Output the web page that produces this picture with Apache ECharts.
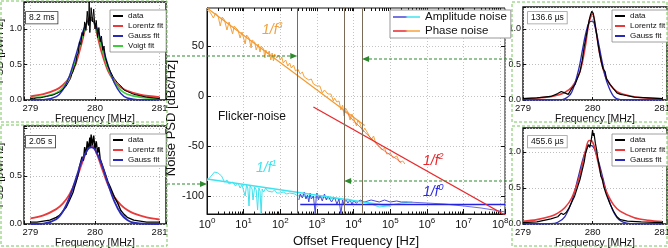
<!DOCTYPE html>
<html>
<head>
<meta charset="utf-8">
<script src="https://cdn.jsdelivr.net/npm/echarts@6/dist/echarts.min.js"></script>
<style>
  html, body { margin: 0; padding: 0; background: #fff; }
  #chart { width: 668px; height: 248px; }
</style>
</head>
<body>
<div id="chart"></div>
<script>
const FONT = "'Liberation Sans', Arial, sans-serif";
const INK = '#111';

// ---- side panels: line shapes, frequency in MHz, PSD in pW/Hz ----
const panelLabels = ['8.2 ms', '2.05 s', '136.6 µs', '455.6 µs'];

const fitFreqTL = [279.0, 279.2, 279.4, 279.5, 279.6, 279.7, 279.8, 279.85, 279.9, 279.95, 280.0, 280.05, 280.1, 280.2, 280.3, 280.4, 280.5, 280.7, 281.0];
const lorentzTL = [0.052, 0.082, 0.146, 0.208, 0.315, 0.504, 0.824, 1.009, 1.144, 1.158, 1.042, 0.86, 0.68, 0.415, 0.265, 0.179, 0.128, 0.074, 0.04];
const gaussTL = [0, 0.003, 0.046, 0.138, 0.328, 0.62, 0.934, 1.05, 1.12, 1.125, 1.069, 0.96, 0.814, 0.494, 0.24, 0.092, 0.028, 0.001, 0];
const voigtTL = [0.03, 0.05, 0.1, 0.17, 0.32, 0.56, 0.88, 1.03, 1.13, 1.14, 1.06, 0.91, 0.75, 0.45, 0.25, 0.14, 0.08, 0.04, 0.02];
const dataTL = [
  [279.0, 0.02], [279.05, 0.02], [279.1, 0.03], [279.15, 0.03], [279.2, 0.04], [279.25, 0.05], [279.3, 0.06],
  [279.35, 0.07], [279.4, 0.09], [279.45, 0.11], [279.5, 0.15], [279.55, 0.19], [279.6, 0.27], [279.62, 0.3],
  [279.64, 0.36], [279.66, 0.4], [279.68, 0.47], [279.7, 0.5], [279.72, 0.62], [279.74, 0.66], [279.76, 0.82],
  [279.78, 0.78], [279.8, 0.95], [279.82, 0.9], [279.84, 1.1], [279.86, 0.98], [279.88, 1.25], [279.9, 1.05],
  [279.91, 1.38], [279.92, 0.95], [279.94, 1.3], [279.96, 1.1], [279.98, 1.28], [280.0, 1.0], [280.02, 1.12],
  [280.04, 0.88], [280.06, 1.02], [280.08, 0.82], [280.1, 0.9], [280.12, 0.7], [280.14, 0.76], [280.16, 0.6],
  [280.18, 0.62], [280.2, 0.48], [280.22, 0.5], [280.24, 0.4], [280.26, 0.42], [280.28, 0.33], [280.3, 0.3],
  [280.35, 0.24], [280.4, 0.2], [280.45, 0.14], [280.5, 0.12], [280.6, 0.08], [280.7, 0.06], [280.8, 0.04],
  [280.9, 0.03], [281.0, 0.02],
];

const fitFreqBL = [279.0, 279.2, 279.4, 279.5, 279.6, 279.7, 279.8, 279.9, 279.95, 280.0, 280.1, 280.2, 280.3, 280.4, 280.5, 280.6, 280.8, 281.0];
const lorentzBL = [0.058, 0.09, 0.155, 0.212, 0.303, 0.443, 0.636, 0.801, 0.819, 0.779, 0.595, 0.41, 0.281, 0.199, 0.145, 0.11, 0.069, 0.047];
const gaussBL = [0, 0.004, 0.05, 0.128, 0.269, 0.464, 0.665, 0.788, 0.799, 0.774, 0.628, 0.422, 0.235, 0.108, 0.042, 0.013, 0.001, 0];
const dataBL = [
  [279.0, 0.02], [279.1, 0.02], [279.2, 0.03], [279.3, 0.04], [279.4, 0.07], [279.45, 0.09], [279.5, 0.13],
  [279.55, 0.17], [279.6, 0.24], [279.64, 0.3], [279.66, 0.33], [279.68, 0.38], [279.7, 0.42], [279.72, 0.47],
  [279.74, 0.52], [279.76, 0.6], [279.78, 0.58], [279.8, 0.7], [279.82, 0.66], [279.84, 0.8], [279.86, 0.72],
  [279.88, 0.86], [279.9, 0.78], [279.92, 0.9], [279.93, 0.8], [279.94, 0.93], [279.96, 0.82], [279.98, 0.92],
  [280.0, 0.78], [280.02, 0.86], [280.04, 0.74], [280.06, 0.8], [280.08, 0.68], [280.1, 0.7], [280.12, 0.6],
  [280.14, 0.62], [280.16, 0.52], [280.18, 0.54], [280.2, 0.44], [280.22, 0.46], [280.24, 0.38], [280.26, 0.36],
  [280.3, 0.28], [280.35, 0.22], [280.4, 0.14], [280.45, 0.1], [280.5, 0.07], [280.6, 0.04], [280.7, 0.03],
  [280.8, 0.02], [281.0, 0.02],
];

const fitFreqR = [279.0, 279.2, 279.4, 279.5, 279.6, 279.7, 279.8, 279.85, 279.9, 279.95, 280.0, 280.05, 280.1, 280.15, 280.2, 280.3, 280.4, 280.6, 280.8, 281.0];
const lorentzTR = [0.018, 0.028, 0.048, 0.069, 0.105, 0.178, 0.348, 0.517, 0.781, 1.098, 1.212, 0.976, 0.663, 0.439, 0.3, 0.159, 0.096, 0.046, 0.026, 0.017];
const gaussTR = [0, 0, 0, 0.001, 0.016, 0.11, 0.43, 0.68, 0.93, 1.09, 1.11, 0.97, 0.73, 0.48, 0.27, 0.054, 0.006, 0, 0, 0];
const dataTR = [
  [279.0, 0.02], [279.2, 0.03], [279.4, 0.05], [279.5, 0.09], [279.55, 0.12], [279.6, 0.1], [279.65, 0.08],
  [279.7, 0.16], [279.75, 0.22], [279.8, 0.35], [279.82, 0.4], [279.85, 0.55], [279.88, 0.75], [279.9, 0.85],
  [279.92, 0.96], [279.95, 1.12], [279.97, 1.2], [279.99, 1.25], [280.01, 1.22], [280.03, 1.1], [280.05, 0.98],
  [280.08, 0.78], [280.1, 0.66], [280.12, 0.56], [280.15, 0.44], [280.18, 0.4], [280.2, 0.3], [280.25, 0.22],
  [280.3, 0.16], [280.35, 0.1], [280.4, 0.08], [280.45, 0.07], [280.6, 0.04], [280.8, 0.03], [281.0, 0.02],
];

const lorentzBR = [0.039, 0.061, 0.106, 0.15, 0.224, 0.36, 0.618, 0.81, 1.017, 1.156, 1.138, 0.977, 0.769, 0.585, 0.445, 0.268, 0.174, 0.088, 0.052, 0.035];
const gaussBR = [0, 0, 0.004, 0.024, 0.1, 0.31, 0.67, 0.86, 1.01, 1.09, 1.08, 0.98, 0.82, 0.63, 0.44, 0.17, 0.045, 0.001, 0, 0];
const dataBR = [
  [279.0, 0.02], [279.2, 0.03], [279.4, 0.07], [279.5, 0.1], [279.55, 0.15], [279.58, 0.13], [279.62, 0.16],
  [279.66, 0.22], [279.7, 0.3], [279.74, 0.38], [279.78, 0.5], [279.82, 0.62], [279.86, 0.78], [279.88, 0.86],
  [279.9, 0.98], [279.92, 1.04], [279.94, 1.1], [279.96, 1.06], [279.98, 1.16], [280.0, 1.3], [280.01, 1.22],
  [280.02, 1.26], [280.04, 1.12], [280.06, 1.02], [280.08, 0.88], [280.1, 0.78], [280.12, 0.66], [280.14, 0.62],
  [280.16, 0.52], [280.18, 0.5], [280.2, 0.4], [280.25, 0.28], [280.3, 0.18], [280.35, 0.1], [280.4, 0.06],
  [280.5, 0.04], [280.7, 0.03], [281.0, 0.02],
];

// ---- centre panel: offset frequency in Hz, noise PSD in dBc/Hz ----
const phaseOrange = [
  [1, 86], [1.2, 84], [1.5, 78], [1.7, 83], [2, 80], [2.3, 70], [2.6, 79], [3, 76], [3.5, 66], [4, 74],
  [4.5, 72], [5, 62], [5.5, 70], [6, 68], [7, 66], [8, 58], [9, 64], [10, 62], [11, 52], [12, 61], [14, 58],
  [16, 48], [17, 56], [20, 54], [22, 46], [25, 52], [28, 44], [30, 50], [35, 47], [38, 38], [40, 46], [45, 42],
  [50, 45], [55, 36], [60, 43], [65, 35], [70, 42], [80, 38], [90, 41], [100, 36], [110, 39], [120, 33],
  [140, 36], [160, 30], [180, 33], [200, 28], [230, 31], [260, 25], [300, 27], [350, 22], [400, 24], [450, 19],
  [500, 21], [600, 16], [700, 17], [800, 12], [900, 14], [1000, 10], [1200, 10], [1400, 3], [1600, 6],
  [2000, 2], [2400, 2], [2800, -5], [3000, -2], [3500, -6], [4000, -5], [4500, -14], [5000, -9], [5500, -20],
  [6000, -12], [7000, -16], [8000, -24], [9000, -18], [10000, -22], [12000, -30], [13000, -24], [15000, -28],
  [18000, -36], [20000, -32], [25000, -38], [30000, -44], [35000, -40], [40000, -47], [50000, -50],
  [60000, -54], [70000, -52], [80000, -58], [100000, -57], [120000, -62], [150000, -60], [180000, -66],
  [220000, -65], [250000, -68],
];
const phaseRed = [
  [5000, -14], [7000, -18], [10000, -25], [15000, -31], [20000, -36], [30000, -42], [50000, -51],
  [70000, -55], [100000, -59], [150000, -63], [200000, -67],
];
const fitF3 = [[1, 88], [20000, -29.5]];
const fitF2 = [[800, -11], [1.35e8, -119]];
const ampCyan = [
  [1, -85], [1.3, -80], [1.6, -76], [2, -77], [2.5, -80], [3, -86], [3.5, -84], [4, -88], [5, -86], [6, -90],
  [7, -87], [8, -92], [9, -89], [10, -91], [11, -100], [12, -89], [13, -92], [14, -110], [15, -90], [17, -93],
  [18, -104], [20, -91], [22, -94], [24, -114], [26, -92], [28, -95], [30, -118], [32, -93], [35, -96],
  [40, -92], [45, -95], [50, -93], [60, -96], [70, -94], [80, -97], [90, -95], [100, -97], [120, -96],
  [150, -98], [180, -97], [200, -99], [250, -98], [300, -100], [400, -99], [500, -101], [700, -100],
  [1000, -102], [1500, -101], [2000, -103], [3000, -102], [5000, -104], [7000, -103], [10000, -105],
  [20000, -106], [30000, -108], [50000, -111], [80000, -110], [100000, -109], [200000, -107], [400000, -106],
];
const ampBlue = [
  [320, -104], [350, -98], [400, -102], [450, -96], [500, -103], [550, -99], [600, -106], [650, -97],
  [700, -103], [800, -100], [900, -118], [950, -102], [1000, -97], [1100, -104], [1200, -99], [1400, -105],
  [1600, -98], [1800, -104], [2000, -100], [2500, -106], [3000, -101], [3500, -108], [4000, -103],
  [4500, -118], [5000, -104], [5500, -109], [6000, -103], [7000, -107], [8000, -104], [9000, -108],
  [10000, -105], [12000, -107], [15000, -104], [20000, -106], [30000, -104], [50000, -106], [70000, -104],
  [100000, -106], [150000, -105], [200000, -106], [300000, -106],
];
const ampBlueHigh = [[300000, -106], [1e6, -107], [3e6, -108], [1e7, -110], [3e7, -112], [1e8, -115], [1.35e8, -116]];
const fitF1 = [[1, -83], [100000, -110]];
const fitF0 = [[350, -108.5], [1.35e8, -108.5]];
const markerFreqs = [290, 5500, 17000];
const decades = [1, 10, 100, 1e3, 1e4, 1e5, 1e6, 1e7, 1e8];
const dbTicks = [-100, -50, 0, 50];

const minorTicks = [];
decades.forEach((d) => {
  for (let m = 2; m <= 9; m += 1) {
    if (m * d <= 1.35e8) minorTicks.push(m * d);
  }
});

const pairs = (xs, ys) => xs.map((x, i) => [x, ys[i]]);

const panelGrids = [
  { left: 24, top: 2, width: 142, height: 98 },
  { left: 24, top: 126, width: 142, height: 98 },
  { left: 523, top: 7, width: 144, height: 93 },
  { left: 523, top: 128, width: 144, height: 96 },
];

const sideX = (gridIndex, min, max) => ({
  type: 'value', gridIndex, min, max, splitNumber: 2,
  name: 'Frequency [MHz]', nameLocation: 'middle', nameGap: 12,
  nameTextStyle: { fontSize: 10.5, color: INK },
  axisLine: { show: false, onZero: false },
  axisTick: { show: true, inside: true, length: 3, lineStyle: { color: INK } },
  axisLabel: { fontSize: 9.5, color: INK, margin: 3, formatter: (v) => (Math.abs(v - Math.round(v)) < 1e-6 ? String(Math.round(v)) : '') },
  splitLine: { show: true, lineStyle: { color: '#bdbdbd', type: [1, 2] } },
});

const sideY = (gridIndex, max, shown, named) => ({
  type: 'value', gridIndex, min: 0, max, interval: 0.5,
  name: named ? 'PSD [pW/Hz]' : '', nameLocation: 'middle', nameGap: 11,
  nameTextStyle: { fontSize: 11, color: INK },
  axisLine: { show: false, onZero: false },
  axisTick: { show: true, inside: true, length: 3, lineStyle: { color: INK } },
  axisLabel: { fontSize: 9, color: INK, margin: 2, formatter: (v) => (shown.some((s) => Math.abs(s - v) < 1e-6) ? v.toFixed(1) : '') },
  splitLine: { show: true, lineStyle: { color: '#bdbdbd', type: [1, 2] } },
});

const panelLine = (name, idx, data, color, width, smooth) => ({
  name, type: 'line', xAxisIndex: idx, yAxisIndex: idx, data, symbol: 'none', smooth,
  lineStyle: { color, width }, itemStyle: { color }, silent: true,
});

const panelSeries = [
  panelLine('Lorentz fit', 0, pairs(fitFreqTL, lorentzTL), '#e8393b', 1.8, 0.35),
  panelLine('Voigt fit', 0, pairs(fitFreqTL, voigtTL), '#3ccc3c', 1.6, 0.35),
  panelLine('Gauss fit', 0, pairs(fitFreqTL, gaussTL), '#2a2ab8', 1.4, 0.35),
  panelLine('data', 0, dataTL, '#000', 1, false),
  panelLine('Lorentz fit', 1, pairs(fitFreqBL, lorentzBL), '#e8393b', 1.8, 0.35),
  panelLine('data', 1, dataBL, '#000', 1.4, false),
  panelLine('Gauss fit', 1, pairs(fitFreqBL, gaussBL), '#2a2ab8', 1.8, 0.35),
  panelLine('Lorentz fit', 2, pairs(fitFreqR, lorentzTR), '#e8393b', 1.6, 0.35),
  panelLine('Gauss fit', 2, pairs(fitFreqR, gaussTR), '#2a2ab8', 1.3, 0.35),
  panelLine('data', 2, dataTR, '#000', 1.2, false),
  panelLine('Gauss fit', 3, pairs(fitFreqR, gaussBR), '#2a2ab8', 1.3, 0.35),
  panelLine('Lorentz fit', 3, pairs(fitFreqR, lorentzBR), '#e8393b', 1.6, 0.35),
  panelLine('data', 3, dataBR, '#000', 1.2, false),
];

const centreLine = (name, data, color, width, extra) => ({
  name, type: 'line', xAxisIndex: 4, yAxisIndex: 4, data, symbol: 'none',
  lineStyle: { color, width }, itemStyle: { color }, silent: true, ...extra,
});

const centreSeries = [
  centreLine('Amplitude noise', ampCyan, '#3fe3ef', 1, {
    markLine: {
      silent: true, symbol: 'none', label: { show: false },
      lineStyle: { color: '#7a6a58', width: 1, type: 'solid' },
      data: markerFreqs.map((f) => ({ xAxis: f })),
    },
  }),
  centreLine('Amplitude noise', ampBlue, '#4646d8', 1),
  centreLine('Amplitude noise', ampBlueHigh, '#5a5ae0', 0.9),
  centreLine('fit1', fitF1, '#3fe3ef', 1.3),
  centreLine('fit0', fitF0, '#2424e0', 1.4),
  centreLine('Phase noise', phaseOrange, '#f6a23c', 1),
  centreLine('Phase noise', phaseRed, '#ee5a3a', 0.8),
  centreLine('fit3', fitF3, '#f39a30', 1.2),
  centreLine('fit2', fitF2, '#e8282c', 1.3),
];

const sideLegend = (left, top, names) => ({
  orient: 'vertical', left, top, selectedMode: false,
  data: names.map((n) => ({ name: n, icon: 'rect' })),
  itemWidth: 10, itemHeight: 2, itemGap: 2,
  padding: [2, 3, 2, 3], backgroundColor: '#fff', borderColor: '#888', borderWidth: 0.8,
  textStyle: { fontSize: 8, lineHeight: 8, color: INK },
});

const expLabel = (v) => {
  const e = Math.log10(v);
  if (Math.abs(e - Math.round(e)) > 1e-6) return '';
  return `{b|10}{s|${Math.round(e)}}`;
};

const option = {
  animation: false,
  textStyle: { fontFamily: FONT },
  grid: [
    ...panelGrids.map((g) => ({ ...g, show: true, borderColor: INK, borderWidth: 1.4, backgroundColor: '#fff', containLabel: false, outerBoundsMode: 'none' })),
    { left: 207, top: 8, width: 298, height: 206, show: true, borderColor: INK, borderWidth: 1, backgroundColor: '#fff', containLabel: false, outerBoundsMode: 'none' },
  ],
  legend: [
    sideLegend(110, 10, ['data', 'Lorentz fit', 'Gauss fit', 'Voigt fit']),
    sideLegend(110, 134, ['data', 'Lorentz fit', 'Gauss fit']),
    sideLegend(612, 10, ['data', 'Lorentz fit', 'Gauss fit']),
    sideLegend(612, 134, ['data', 'Lorentz fit', 'Gauss fit']),
    {
      orient: 'vertical', left: 390, top: 10, selectedMode: false,
      data: [
        { name: 'Amplitude noise', icon: 'rect', itemStyle: { color: new echarts.graphic.LinearGradient(0, 0, 1, 0, [{ offset: 0, color: '#4646d8' }, { offset: 0.45, color: '#4646d8' }, { offset: 0.55, color: '#3fe3ef' }, { offset: 1, color: '#3fe3ef' }]) } },
        { name: 'Phase noise', icon: 'rect', itemStyle: { color: new echarts.graphic.LinearGradient(0, 0, 1, 0, [{ offset: 0, color: '#e8282c' }, { offset: 0.45, color: '#e8282c' }, { offset: 0.55, color: '#f6a23c' }, { offset: 1, color: '#f6a23c' }]) } },
      ],
      itemWidth: 27, itemHeight: 1.5, itemGap: 2,
      padding: [1, 4, 1, 3], backgroundColor: '#fff', borderColor: '#999', borderWidth: 1,
      textStyle: { fontSize: 11.5, lineHeight: 11, color: INK },
    },
  ],
  xAxis: [
    sideX(0, 278.9, 281.1),
    sideX(1, 278.9, 281.1),
    sideX(2, 279, 281.07),
    sideX(3, 279, 281.07),
    {
      type: 'log', gridIndex: 4, logBase: 10, min: 1, max: 1.35e8, position: 'bottom',
      name: 'Offset Frequency [Hz]', nameLocation: 'middle', nameGap: 20,
      nameTextStyle: { fontSize: 13, color: INK },
      axisLine: { show: true, onZero: false, lineStyle: { color: INK } },
      axisTick: { show: true, inside: true, length: 5, lineStyle: { color: INK } },
      axisLabel: {
        color: INK, margin: 3, formatter: expLabel,
        rich: {
          b: { fontSize: 11, lineHeight: 13, verticalAlign: 'bottom', color: INK },
          s: { fontSize: 8, lineHeight: 8, verticalAlign: 'top', color: INK },
        },
      },
      splitLine: { show: true, lineStyle: { color: '#c4c4c4', type: [1, 2] } },
    },
    {
      type: 'log', gridIndex: 4, logBase: 10, min: 1, max: 1.35e8, position: 'bottom',
      axisLine: { show: false, onZero: false }, axisLabel: { show: false }, splitLine: { show: false },
      axisTick: { show: true, inside: true, length: 2.5, customValues: minorTicks, lineStyle: { color: INK } },
    },
    {
      type: 'log', gridIndex: 4, logBase: 10, min: 1, max: 1.35e8, position: 'top',
      axisLine: { show: false, onZero: false }, axisLabel: { show: false }, splitLine: { show: false },
      axisTick: { show: true, inside: true, length: 3, customValues: decades.concat(minorTicks), lineStyle: { color: INK } },
    },
  ],
  yAxis: [
    sideY(0, 1.38, [0, 0.5, 1], true),
    sideY(1, 1.02, [0, 0.5], true),
    sideY(2, 1.31, [0, 0.5, 1], false),
    sideY(3, 1.33, [0, 0.5, 1], false),
    {
      type: 'value', gridIndex: 4, min: -118, max: 88, position: 'left',
      name: 'Noise PSD [dBc/Hz]', nameLocation: 'middle', nameGap: 22,
      nameTextStyle: { fontSize: 13, color: INK, padding: [0, 14, 0, 0] },
      axisLine: { show: true, onZero: false, lineStyle: { color: INK } },
      axisTick: { show: true, inside: true, length: 4, customValues: dbTicks, lineStyle: { color: INK } },
      axisLabel: { fontSize: 11, color: INK, margin: 3, customValues: dbTicks, formatter: (v) => String(Math.round(v)) },
      splitLine: { show: true, lineStyle: { color: '#c4c4c4', type: [1, 2] } },
    },
    {
      type: 'value', gridIndex: 4, min: -118, max: 88, position: 'right',
      axisLine: { show: false, onZero: false }, axisLabel: { show: false }, splitLine: { show: false },
      axisTick: { show: true, inside: true, length: 4, customValues: dbTicks, lineStyle: { color: INK } },
    },
  ],
  series: [...panelSeries, ...centreSeries],
};

const chart = echarts.init(document.getElementById('chart'));
chart.setOption(option);

// annotations: dashed boxes round the side panels, arrows to the centre plot, labels
const px = (f) => chart.convertToPixel({ xAxisIndex: 4 }, f);
const boxStyle = { fill: 'none', stroke: '#78c45a', lineWidth: 1, lineDash: [3, 2] };
const arrowColor = '#2f8a2f';

const arrow = (xFrom, xTo, y) => {
  const dir = xTo > xFrom ? 1 : -1;
  return [
    { type: 'line', z: 50, shape: { x1: xFrom, y1: y, x2: xTo - dir * 6, y2: y }, style: { stroke: arrowColor, lineWidth: 1.1, lineDash: [3, 2] } },
    { type: 'polygon', z: 50, shape: { points: [[xTo, y], [xTo - dir * 7, y - 3], [xTo - dir * 7, y + 3]] }, style: { fill: arrowColor } },
  ];
};

const tag = (x, y, text, border) => ({
  type: 'text', x, y, z: 40,
  style: { text, fontSize: 8.5, fontFamily: FONT, fill: INK, backgroundColor: '#fff', borderColor: border, borderWidth: 0.8, padding: [1.5, 3, 1, 3] },
});

const slope = (x, y, p, color) => ({
  type: 'text', x, y, z: 40,
  style: {
    text: `{a|1/f}{s|${p}}`,
    rich: {
      a: { fontSize: 14, fontStyle: 'italic', fontFamily: FONT, fill: color, lineHeight: 16, verticalAlign: 'bottom' },
      s: { fontSize: 9, fontStyle: 'italic', fontFamily: FONT, fill: color, lineHeight: 9, verticalAlign: 'top' },
    },
  },
});

chart.setOption({
  graphic: [
    { type: 'rect', z: 30, shape: { x: 1, y: 1, width: 166, height: 121 }, style: boxStyle },
    { type: 'rect', z: 30, shape: { x: 1, y: 125, width: 166, height: 121 }, style: boxStyle },
    { type: 'rect', z: 30, shape: { x: 512, y: 2, width: 155, height: 120 }, style: boxStyle },
    { type: 'rect', z: 30, shape: { x: 512, y: 126, width: 155, height: 120 }, style: boxStyle },
    ...arrow(167, px(markerFreqs[0]), 56),
    ...arrow(167, px(1), 184),
    ...arrow(512, px(markerFreqs[2]), 59),
    ...arrow(512, px(markerFreqs[1]), 181),
    tag(26, 12, panelLabels[0], '#333'),
    tag(26, 136, panelLabels[1], '#333'),
    tag(528, 12, panelLabels[2], '#999'),
    tag(528, 136, panelLabels[3], '#999'),
    slope(262, 21, 3, '#f0a23e'),
    slope(256, 159, 1, '#3fe3ef'),
    slope(423, 152, 2, '#e8282c'),
    slope(423, 183, 0, '#2a2ae0'),
    { type: 'text', x: 218, y: 111, z: 40, style: { text: 'Flicker-noise', fontSize: 12, fontFamily: FONT, fill: INK } },
  ],
});

window.addEventListener('resize', () => chart.resize());
</script>
</body>
</html>
